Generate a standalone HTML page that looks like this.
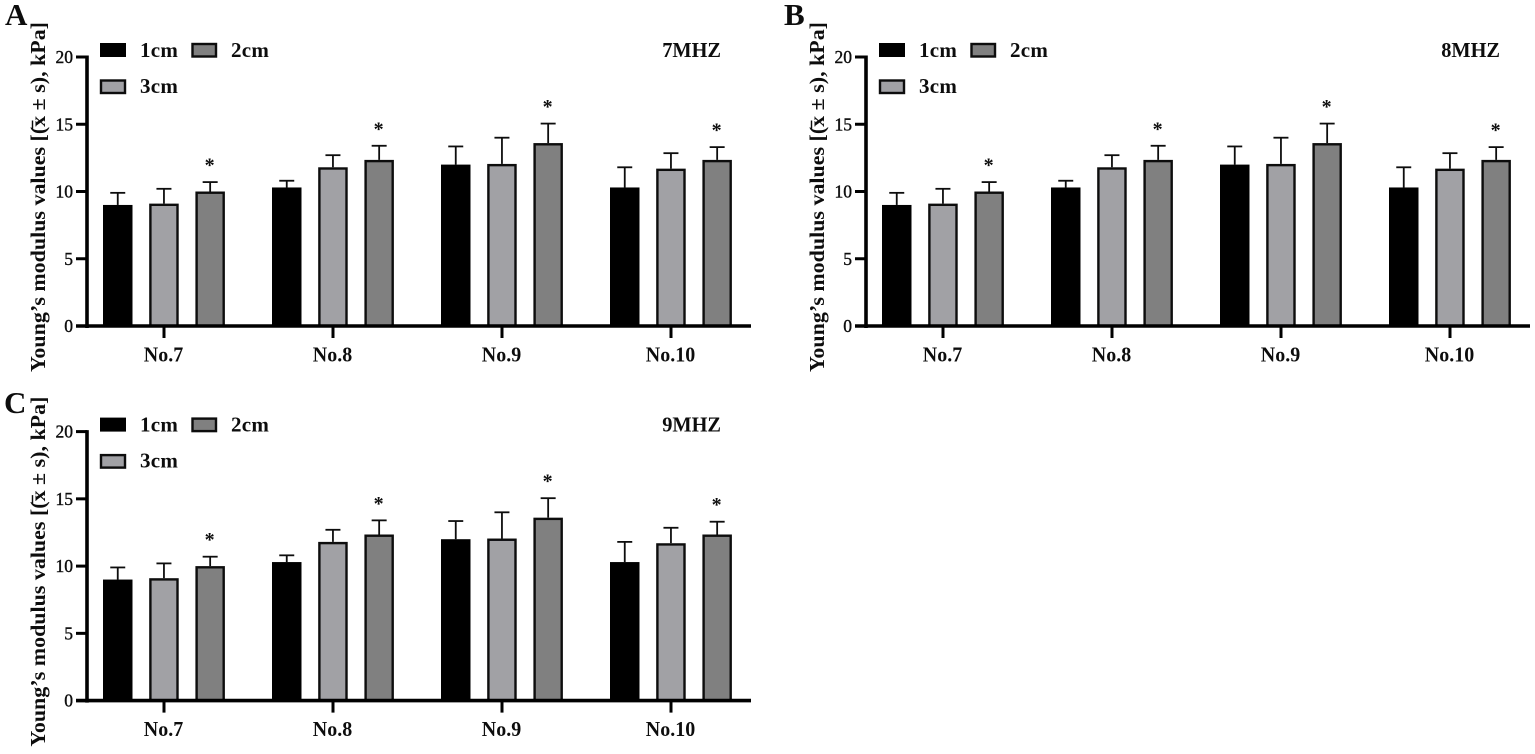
<!DOCTYPE html>
<html lang="en">
<head>
<meta charset="utf-8">
<title>Young's modulus values by depth and frequency</title>
<style>
  html, body { margin: 0; padding: 0; background: #fff; }
  body { width: 1535px; height: 754px; overflow: hidden; }
  svg { display: block; }
  text { font-family: "Liberation Serif", serif; fill: #111; }
</style>
</head>
<body>
<svg id="figure" xmlns="http://www.w3.org/2000/svg" width="1535" height="754" viewBox="0 0 1535 754">
  <defs>
    <filter id="soft" x="-2%" y="-2%" width="104%" height="104%"><feGaussianBlur stdDeviation="0.35"/></filter>
  </defs>
  <g id="root" filter="url(#soft)"></g>
</svg>
<script>
const categories = ['No.7', 'No.8', 'No.9', 'No.10'];
const seriesNames = ['1cm', '3cm', '2cm'];
const values1cm = [9.0, 10.3, 12.0, 10.3];
const values3cm = [9.1, 11.8, 12.05, 11.7];
const values2cm = [10.0, 12.35, 13.6, 12.35];
const errors1cm = [0.9, 0.5, 1.35, 1.5];
const errors3cm = [1.1, 0.9, 1.95, 1.15];
const errors2cm = [0.7, 1.05, 1.45, 0.95];
const yTickLabels = [0, 5, 10, 15, 20];
const panelLetters = ['A', 'B', 'C'];
const panelTitles = ['7MHZ', '8MHZ', '9MHZ'];
const yTitleText = "Young\u2019s modulus values [(x \u00B1 s), kPa]";

const seriesValues = [values1cm, values3cm, values2cm];
const seriesErrors = [errors1cm, errors3cm, errors2cm];
const seriesFills = ['#000000', '#a1a1a5', '#808080'];
const seriesStrokes = ['#000000', '#0a0a0a', '#0a0a0a'];
const SVG_NS = 'http://www.w3.org/2000/svg';
const root = document.getElementById('root');

// Panel placement (layout only)
const layouts = [
  { dx: 0, dy: 0, letterX: 5, letterY: 25 },
  { dx: 779, dy: 0, letterX: 5, letterY: 25 },
  { dx: 0, dy: 374.6, letterX: 4, letterY: 38.4 }
];

function yScale(v) { return 326 - (v / 20) * 269; }
function groupCenter(i) { return 164 + i * 169; }
function barLeft(g, s) { return groupCenter(g) - 61 + s * 46.2; }
const BAR_WIDTH = 29.5;

function make(tag, parent, attrs, text) {
  const el = document.createElementNS(SVG_NS, tag);
  for (const k in attrs) el.setAttribute(k, attrs[k]);
  if (text !== undefined) el.textContent = text;
  parent.appendChild(el);
  return el;
}

layouts.forEach(function (lay, p) {
  const panel = make('g', root, { transform: 'translate(' + lay.dx + ',' + lay.dy + ')' });
  
  

  const letter = make('text', panel, { x: lay.letterX, y: lay.letterY, 'font-size': 31, 'font-weight': 'bold' }, panelLetters[p]);
  
  

  const yTitle = make('text', panel, {
    transform: 'translate(45,372) rotate(-90)',
    'font-size': 21, 'font-weight': 'bold',
    textLength: 350, lengthAdjust: 'spacingAndGlyphs'
  }, yTitleText);
  
  

  const meanBar = make('line', panel, { x1: 32.5, x2: 32.5, y1: 120.5, y2: 130, stroke: '#111', 'stroke-width': 1.4 });
  
  

  const title = make('text', panel, {
    transform: 'translate(721,57) scale(0.97,1)',
    'font-size': 21, 'font-weight': 'bold', 'text-anchor': 'end'
  }, panelTitles[p]);
  
  

  // Bars and error bars
  categories.forEach(function (cat, g) {
    seriesNames.forEach(function (name, s) {
      const v = seriesValues[s][g];
      const e = seriesErrors[s][g];
      const left = barLeft(g, s);
      const cx = left + BAR_WIDTH / 2;
      const top = yScale(v + e);

      const stem = make('line', panel, { x1: cx, x2: cx, y1: top, y2: yScale(v), stroke: '#111', 'stroke-width': 1.8 });
      
      

      const cap = make('line', panel, { x1: cx - 7.5, x2: cx + 7.5, y1: top, y2: top, stroke: '#111', 'stroke-width': 1.8 });
      
      

      const inset = s === 0 ? 0 : 1.2;
      const bar = make('rect', panel, {
        x: left + inset, y: yScale(v) + inset,
        width: BAR_WIDTH - 2 * inset, height: Math.max(0, yScale(0) - yScale(v) - inset),
        fill: seriesFills[s], stroke: seriesStrokes[s], 'stroke-width': s === 0 ? 0 : 2.4
      });
      
      

      if (s === 2) {
        const star = make('text', panel, { x: cx - 0.5, y: top - 10.5, 'font-size': 20, 'font-weight': 'bold', 'text-anchor': 'middle' }, '*');
        
        
      }
    });
  });

  // Axes
  const ySpine = make('line', panel, { x1: 87, x2: 87, y1: 55.5, y2: 328, stroke: '#000', 'stroke-width': 3.6 });
  
  

  const xSpine = make('line', panel, { x1: 76, x2: 751, y1: 326, y2: 326, stroke: '#000', 'stroke-width': 3.6 });
  
  

  yTickLabels.forEach(function (t) {
    const y = yScale(t);
    const tick = make('line', panel, { x1: 76, x2: 87, y1: y, y2: y, stroke: '#000', 'stroke-width': 3 });
    
    

    const label = make('text', panel, { x: 73, y: y + 6, 'font-size': 17.5, 'text-anchor': 'end', stroke: '#111', 'stroke-width': 0.4 }, String(t));
    
    
  });

  categories.forEach(function (cat, g) {
    const x = groupCenter(g);
    const tick = make('line', panel, { x1: x, x2: x, y1: 326, y2: 338, stroke: '#000', 'stroke-width': 3 });
    
    

    const label = make('text', panel, {
      transform: 'translate(' + (x - 0.5) + ',361.5) scale(0.93,1)',
      'font-size': 21.5, 'font-weight': 'bold', 'text-anchor': 'middle'
    }, cat);
    
    
  });

  // Legend
  const legend = make('g', panel, {});
  
  

  const swatch1 = make('rect', legend, { x: 100, y: 43, width: 26, height: 14, fill: '#000' });
  
  

  const label1 = make('text', legend, { x: 140, y: 57, 'font-size': 21, 'font-weight': 'bold', 'letter-spacing': 0.3 }, '1cm');
  
  

  const swatch2 = make('rect', legend, { x: 192.5, y: 44, width: 23.5, height: 12.5, fill: '#808080', stroke: '#0a0a0a', 'stroke-width': 2.4 });
  
  

  const label2 = make('text', legend, { x: 231, y: 57, 'font-size': 21, 'font-weight': 'bold', 'letter-spacing': 0.3 }, '2cm');
  
  

  const swatch3 = make('rect', legend, { x: 101, y: 80.5, width: 24, height: 12.5, fill: '#a1a1a5', stroke: '#0a0a0a', 'stroke-width': 2.4 });
  
  

  const label3 = make('text', legend, { x: 140, y: 93, 'font-size': 21, 'font-weight': 'bold', 'letter-spacing': 0.3 }, '3cm');
  
  
});
</script>
</body>
</html>
